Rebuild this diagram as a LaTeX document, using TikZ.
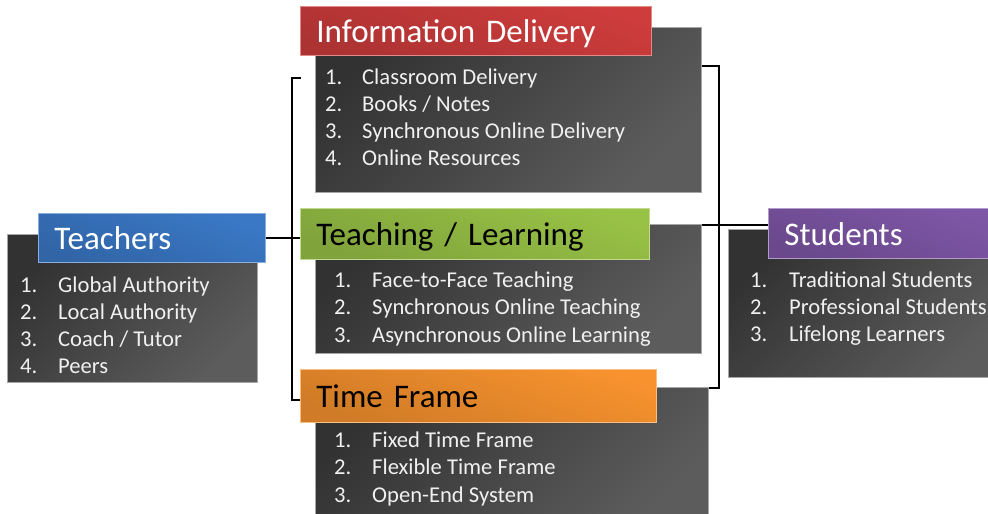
\documentclass[tikz,border=0pt]{standalone}
\usepackage{fontspec}
\setmainfont{Carlito}
\usetikzlibrary{positioning}
\definecolor{tblue}{HTML}{3A78C6}
\definecolor{tred}{HTML}{CE3C3C}
\definecolor{tgreen}{HTML}{98C246}
\definecolor{torange}{HTML}{F7922E}
\definecolor{tpurple}{HTML}{7E56A6}
\definecolor{boxdark}{HTML}{323232}
\definecolor{boxlight}{HTML}{5C5C5C}

\begin{document}
\begin{tikzpicture}[x=1pt,y=-1pt,
 listbox/.style={anchor=north west,draw=gray!70,line width=0.8pt,top color=boxdark,bottom color=boxlight,shading angle=45,inner sep=0pt},
 titlebox/.style={anchor=north west,draw=#1!60!white,line width=0.8pt,top color=#1,bottom color=#1!84!black,shading angle=-20,inner xsep=16pt,inner ysep=0pt,align=left,text=white,font=\fontsize{33}{36}\selectfont,text height=28pt,text depth=4pt},
 num/.style={anchor=base west,text=white!94!black,font=\fontsize{22.6}{26}\selectfont,inner sep=0pt},
 item/.style={num},
 link/.style={draw=black,line width=1.6pt}]
\useasboundingbox (0,0) rectangle (988,514);

% Dark list panels first, the coloured headings sit on top of them.
\node[listbox,minimum width=250,minimum height=148] (teachB) at (7,234) {};
\node[listbox,minimum width=386,minimum height=165] (infoB) at (315,27) {};
\node[listbox,minimum width=386,minimum height=129] (learnB) at (315,224) {};
\node[listbox,minimum width=393,minimum height=140] (timeB) at (315,387) {};
\node[listbox,minimum width=280,minimum height=148] (studB) at (728,229) {};

\node[titlebox=tblue,text width=195pt,minimum height=49pt] (teachT) at (38,213) {Teachers};
\node[titlebox=tred,text width=319pt,minimum height=49pt] (infoT) at (300,6) {Information Delivery};
\node[titlebox=tgreen,text=black,text width=317pt,minimum height=51pt] (learnT) at (300,208) {Teaching / Learning};
\node[titlebox=torange,text=black,text width=324pt,minimum height=53pt] (timeT) at (300,369) {Time Frame};
\node[titlebox=tpurple,text width=190pt,minimum height=50pt] (studT) at (768,208) {Students};

% Numbered entries of each panel.
\foreach \txt [count=\i] in {Global Authority,Local Authority,Coach / Tutor,Peers} {
 \node[num] (teachN\i) at (20,{292+27*(\i-1)}) {\i.};
 \node[item] (teachI\i) at (58,{292+27*(\i-1)}) {\txt};
}
\foreach \txt [count=\i] in {Classroom Delivery,Books / Notes,Synchronous Online Delivery,Online Resources} {
 \node[num] (infoN\i) at (325,{84+27.3*(\i-1)}) {\i.};
 \node[item] (infoI\i) at (362,{84+27.3*(\i-1)}) {\txt};
}
\foreach \txt [count=\i] in {Face-to-Face Teaching,Synchronous Online Teaching,Asynchronous Online Learning} {
 \node[num] (learnN\i) at (334,{287+27.5*(\i-1)}) {\i.};
 \node[item] (learnI\i) at (372,{287+27.5*(\i-1)}) {\txt};
}
\foreach \txt [count=\i] in {Fixed Time Frame,Flexible Time Frame,Open-End System} {
 \node[num] (timeN\i) at (334,{447+27.5*(\i-1)}) {\i.};
 \node[item] (timeI\i) at (372,{447+27.5*(\i-1)}) {\txt};
}
\foreach \txt [count=\i] in {Traditional Students,Professional Students,Lifelong Learners} {
 \node[num] (studN\i) at (750,{287+27*(\i-1)}) {\i.};
 \node[item] (studI\i) at (789,{287+27*(\i-1)}) {\txt};
}

% Brackets joining teachers and students to the three middle panels.
\coordinate (lstub) at (301,78);
\coordinate (lbarT) at (292,78);
\coordinate (lbarB) at (292,400);
\coordinate (rbarT) at (719,66);
\coordinate (rmid) at (719,225);
\coordinate (rbarB) at (719,388);
\draw[link] (lstub) -- (lbarT) -- (lbarB) -- (timeT.west |- lbarB);
\draw[link] (teachT.east) -- (learnT.west |- teachT.east);
\draw[link] (infoB.east |- rbarT) -- (rbarT) -- (rbarB) -- (timeB.east |- rbarB);
\draw[link] (learnB.east |- rmid) -- (studT.west |- rmid);
\end{tikzpicture}
\end{document}
